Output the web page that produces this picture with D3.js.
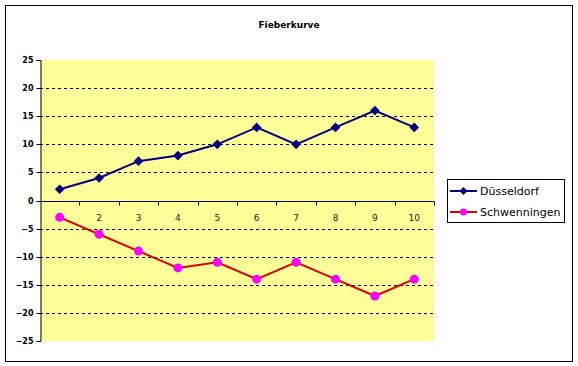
<!DOCTYPE html>
<html><head><meta charset="utf-8">
<script src="https://cdn.jsdelivr.net/npm/d3@7"></script>
<style>body{margin:0;background:#fff}svg{display:block}</style>
</head><body>
<script>
const categories = [1,2,3,4,5,6,7,8,9,10];
const duesseldorf = [2,4,7,8,10,13,10,13,16,13];
const schwenningen = [-3,-6,-9,-12,-11,-14,-11,-14,-17,-14];
const yTicks = [25,20,15,10,5,0,-5,-10,-15,-20,-25];
const seriesNames = ["Düsseldorf","Schwenningen"];
const title = "Fieberkurve";

const W=578,H=366;
const svg=d3.select("body").append("svg").attr("width",W).attr("height",H);
svg.append("rect").attr("width",W).attr("height",H).attr("fill","#fff");
svg.append("rect").attr("x",5.5).attr("y",5.5).attr("width",567).attr("height",356)
  .attr("fill","#fff").attr("stroke","#000").attr("stroke-width",1);

const L=40,R=434,T=60,B=341;
const x=d3.scaleBand().domain(categories).range([L,R]);
const y=d3.scaleLinear().domain([-25,25]).range([B,T]);

svg.append("rect").attr("x",L).attr("y",T).attr("width",R-L).attr("height",B-T).attr("fill","#ffff99");

// gridlines
svg.append("g").selectAll("line").data(yTicks.filter(v=>v!==25&&v!==-25&&v!==0)).join("line")
  .attr("x1",L).attr("x2",R).attr("y1",d=>Math.round(y(d))+0.5).attr("y2",d=>Math.round(y(d))+0.5)
  .attr("stroke","#000").attr("stroke-dasharray","3,3").attr("stroke-width",1);

// y axis
const yAxis=d3.axisLeft(y).tickValues(yTicks).tickSize(4).tickPadding(3);
const gy=svg.append("g").attr("transform",`translate(${L+0.5},0)`).call(yAxis);
gy.selectAll("text").attr("font-family","Tahoma, 'DejaVu Sans', sans-serif").attr("font-size","8px").attr("font-weight","bold").attr("fill","#000");
gy.select(".domain").attr("stroke","#000");
gy.selectAll(".tick line").attr("stroke","#000");
gy.selectAll(".tick").attr("transform",d=>`translate(0,${Math.round(y(d))+0.5})`);

// x axis at zero
const x0=Math.round(y(0))+0.5;
const gx=svg.append("g").attr("transform",`translate(0,${x0})`);
gx.append("line").attr("x1",L).attr("x2",R).attr("stroke","#000");
const bounds=categories.map((c,i)=>x(c)).concat([R]).slice(1);
gx.selectAll("line.t").data(bounds).join("line").attr("class","t")
  .attr("x1",d=>Math.round(d)+0.5).attr("x2",d=>Math.round(d)+0.5).attr("y1",0).attr("y2",4).attr("stroke","#000");
gx.selectAll("text").data(categories).join("text")
  .attr("x",d=>x(d)+x.bandwidth()/2).attr("y",19).attr("text-anchor","middle")
  .attr("font-family","Tahoma, 'DejaVu Sans', sans-serif").attr("font-size","9px").attr("fill","#222").text(d=>d);

// title
svg.append("text").attr("x",289).attr("y",28).attr("text-anchor","middle")
  .attr("font-family","Tahoma, 'DejaVu Sans', sans-serif").attr("font-size","9px").attr("font-weight","bold").text(title);

const cx=d=>x(d)+x.bandwidth()/2;
const line=d3.line().x((d,i)=>cx(categories[i])).y(d=>y(d));

svg.append("path").datum(schwenningen).attr("d",line).attr("fill","none").attr("stroke","#dd0000").attr("stroke-width",2);
svg.append("g").selectAll("circle").data(schwenningen).join("circle")
  .attr("cx",(d,i)=>cx(categories[i])).attr("cy",d=>y(d)).attr("r",4.5).attr("fill","#ff00ff");

svg.append("path").datum(duesseldorf).attr("d",line).attr("fill","none").attr("stroke","#000080").attr("stroke-width",2);
const diamond=d3.symbol().type(d3.symbolDiamond2).size(60);
svg.append("g").selectAll("path").data(duesseldorf).join("path")
  .attr("d",diamond).attr("transform",(d,i)=>`translate(${cx(categories[i])},${y(d)})`).attr("fill","#000080");

// legend
const lg=svg.append("g");
lg.append("rect").attr("x",447.5).attr("y",179.5).attr("width",117).attr("height",43).attr("fill","#fff").attr("stroke","#000");
const colors=[["#000080","#000080"],["#dd0000","#ff00ff"]];
seriesNames.forEach((n,i)=>{
  const yy=191+i*21;
  lg.append("line").attr("x1",450).attr("x2",477).attr("y1",yy).attr("y2",yy).attr("stroke",colors[i][0]).attr("stroke-width",2);
  if(i===0) lg.append("path").attr("d",d3.symbol().type(d3.symbolDiamond2).size(40)).attr("transform",`translate(463.5,${yy})`).attr("fill",colors[i][1]);
  else lg.append("circle").attr("cx",463.5).attr("cy",yy).attr("r",3.5).attr("fill",colors[i][1]);
  lg.append("text").attr("x",480).attr("y",yy+4).attr("font-family","Tahoma, 'DejaVu Sans', sans-serif").attr("font-size","11px").text(n);
});
</script>
</body></html>
